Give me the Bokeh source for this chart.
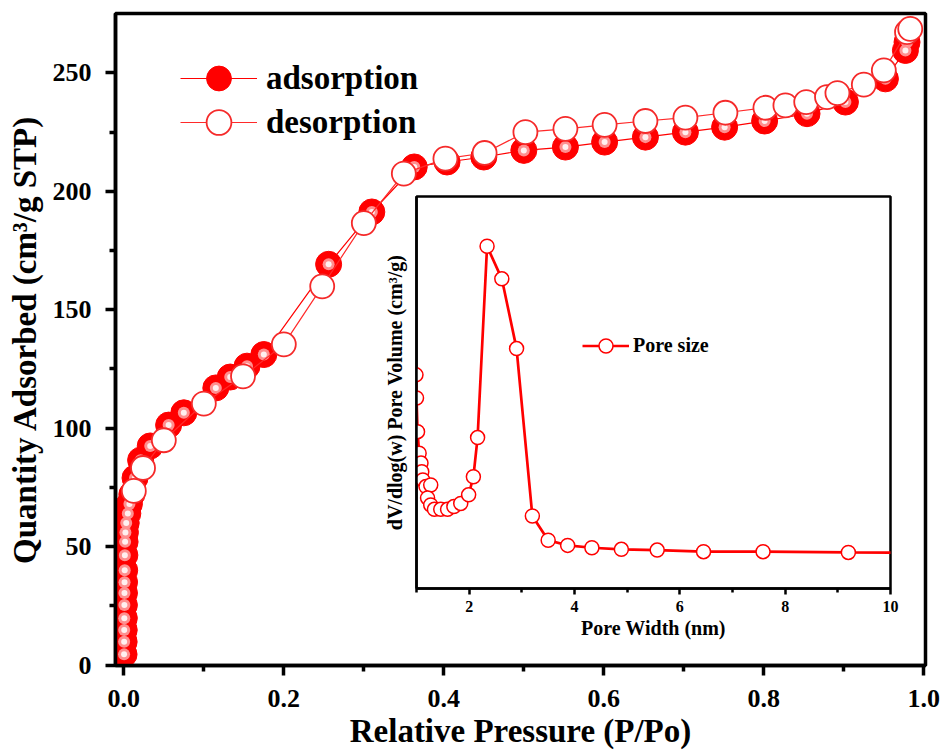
from bokeh.plotting import figure
from bokeh.models import FixedTicker, Legend, LegendItem, Range1d, PrintfTickFormatter
from bokeh.layouts import column
from bokeh.embed import file_html
from bokeh.resources import INLINE

FONT = "Liberation Serif"
RED = "#ff0000"

# ---- N2 isotherm (main plot) ----
ads_x = [0.0003, 0.0004, 0.0005, 0.0006, 0.0007, 0.0008, 0.0009, 0.0011, 0.0013, 0.0016,
         0.002, 0.003, 0.005, 0.007, 0.010, 0.014,
         0.021, 0.033, 0.056, 0.075, 0.115, 0.133, 0.154, 0.175,
         0.256, 0.31, 0.363, 0.404, 0.45, 0.50, 0.552, 0.601, 0.652, 0.702,
         0.751, 0.801, 0.854, 0.902, 0.952, 0.977, 0.979]
ads_y = [4.5, 9.8, 14.8, 19.8, 25.3, 30.4, 35.0, 40.0, 46.4, 52.0,
         56.0, 60.0, 64.0, 68.0, 72.0, 79.0,
         86.5, 92.5, 101.3, 106.5, 117.0, 121.6, 126.2, 131.1,
         169.2, 191.3, 210.3, 212.4, 214.5, 217.3, 218.7, 220.8, 222.9, 225.0,
         227.1, 229.7, 232.8, 237.7, 247.5, 259.5, 263.0]

des_x = [0.0125, 0.024, 0.05, 0.1, 0.149, 0.2, 0.248, 0.30, 0.35, 0.402, 0.451,
         0.502, 0.552, 0.601, 0.652, 0.702, 0.752, 0.802, 0.827, 0.853, 0.879,
         0.892, 0.925, 0.95, 0.979, 0.983]
des_y = [73.5, 83.2, 94.9, 110.4, 121.9, 135.4, 159.9, 186.6, 207.5, 213.8, 216.2,
         225.0, 226.4, 228.1, 229.7, 231.1, 233.2, 235.3, 236.3, 237.7, 239.8,
         241.5, 245.1, 251.1, 267.2, 268.6]

x_ticks = [0.0, 0.2, 0.4, 0.6, 0.8, 1.0]
x_minor = [0.1, 0.3, 0.5, 0.7, 0.9]
y_ticks = [0, 50, 100, 150, 200, 250]
y_minor = [25, 75, 125, 175, 225]

# ---- pore size distribution (inset) ----
pore_w = [0.99, 1.0, 1.02, 1.05, 1.085, 1.10, 1.12, 1.18, 1.27, 1.21, 1.27, 1.34,
          1.46, 1.59, 1.71, 1.84, 1.99, 2.08, 2.16, 2.34, 2.62, 2.90, 3.20, 3.50,
          3.87, 4.33, 4.89, 5.57, 6.45, 7.58, 9.20, 11.5]
pore_v = [0.545, 0.486, 0.40, 0.345, 0.32, 0.298, 0.277, 0.26, 0.264, 0.231, 0.213, 0.202,
          0.202, 0.202, 0.209, 0.217, 0.239, 0.285, 0.385, 0.873, 0.790, 0.612, 0.185, 0.123,
          0.110, 0.104, 0.100, 0.098, 0.094, 0.094, 0.092, 0.091]
w_ticks = [2, 4, 6, 8, 10]
w_minor = [1, 3, 5, 7, 9]


def style_axis(ax, lw, tick_out, minor_out, lab_size, lab_std, title_size, title_std):
    ax.axis_line_color = "black"
    ax.axis_line_width = lw
    ax.major_tick_line_color = "black"
    ax.major_tick_line_width = lw
    ax.major_tick_out = tick_out
    ax.major_tick_in = 0
    ax.minor_tick_line_color = "black"
    ax.minor_tick_line_width = lw
    ax.minor_tick_out = minor_out
    ax.minor_tick_in = 0
    ax.major_label_text_font = FONT
    ax.major_label_text_font_style = "bold"
    ax.major_label_text_font_size = f"{lab_size}px"
    ax.major_label_text_color = "black"
    ax.major_label_standoff = lab_std
    ax.axis_label_text_font = FONT
    ax.axis_label_text_font_style = "bold"
    ax.axis_label_text_font_size = f"{title_size}px"
    ax.axis_label_text_color = "black"
    ax.axis_label_standoff = title_std


def legend_for(label, renderers, loc, gw, gh, std, size):
    return Legend(items=[LegendItem(label=label, renderers=renderers)],
                  location=loc, glyph_width=gw, glyph_height=gh, label_height=gh,
                  padding=0, margin=0, label_standoff=std,
                  label_text_font=FONT, label_text_font_style="bold",
                  label_text_font_size=f"{size}px", label_text_color="black",
                  border_line_color=None, background_fill_alpha=0)


# ================= main figure =================
p = figure(width=944, height=755,
           x_range=Range1d(-0.0104, 1.0021), y_range=Range1d(-0.2, 275.1),
           output_backend="svg", toolbar_location=None,
           min_border_left=115, min_border_right=19, min_border_top=13, min_border_bottom=90)
p.frame_align = False
p.grid.visible = False
p.outline_line_color = "black"
p.outline_line_width = 3.5
p.background_fill_color = "white"
p.border_fill_color = "white"

xa = p.xaxis[0]
ya = p.yaxis[0]
xa.ticker = FixedTicker(ticks=x_ticks, minor_ticks=x_minor)
ya.ticker = FixedTicker(ticks=y_ticks, minor_ticks=y_minor)
xa.formatter = PrintfTickFormatter(format="%.1f")
xa.axis_label = "Relative Pressure (P/Po)"
ya.axis_label = "Quantity Adsorbed (cm\u00b3/g STP)"
style_axis(xa, 3.5, 10, 6, 26, 14, 33, 3)
style_axis(ya, 3.5, 10, 6, 26, 14, 33, 7)

l_ads = p.line(ads_x, ads_y, line_color=RED, line_width=1.2)
s_ads = p.scatter(ads_x, ads_y, size=26, fill_color=RED, line_color=RED, line_width=1)
p.scatter(ads_x, ads_y, size=12, fill_color="#ff8f8f", line_color=None)
p.scatter(ads_x, ads_y, size=6, fill_color="#fff0f0", line_color=None)
l_des = p.line(des_x, des_y, line_color="#ff2a2a", line_width=1.2)
s_des = p.scatter(des_x, des_y, size=24, fill_color="white", line_color="#f52a2a", line_width=1.8)

p.add_layout(legend_for("adsorption", [l_ads, s_ads], (65, 556), 77, 62, 9, 33))
p.add_layout(legend_for("desorption", [l_des, s_des], (65, 512), 77, 62, 9, 33))

# ================= inset figure =================
q = figure(width=522, height=458, x_range=Range1d(1, 10), y_range=Range1d(0, 1),
           output_backend="svg", toolbar_location=None,
           min_border_left=35, min_border_right=12, min_border_top=6, min_border_bottom=60,
           margin=(-565, 0, 0, 380))
q.frame_align = False
q.grid.visible = False
q.border_fill_color = None
q.background_fill_color = "white"
q.outline_line_color = "black"
q.outline_line_width = 2.5

qx = q.xaxis[0]
qy = q.yaxis[0]
qx.ticker = FixedTicker(ticks=w_ticks, minor_ticks=w_minor)
qy.ticker = FixedTicker(ticks=[], minor_ticks=[])
qx.axis_label = "Pore Width (nm)"
qy.axis_label = "dV/dlog(w) Pore Volume (cm\u00b3/g)"
style_axis(qx, 2.5, 6, 4, 16, 6, 20, 2)
style_axis(qy, 2.5, 0, 0, 16, 0, 20, 11)

ln = q.line(pore_w, pore_v, line_color=RED, line_width=2.7)
sc = q.scatter(pore_w, pore_v, size=14, fill_color="white", line_color=RED, line_width=1.5)

q.add_layout(legend_for("Pore size", [ln, sc], (166, 225), 47, 35, 4, 20))

layout = column(p, q)
open("out.html", "w").write(file_html(layout, INLINE))
